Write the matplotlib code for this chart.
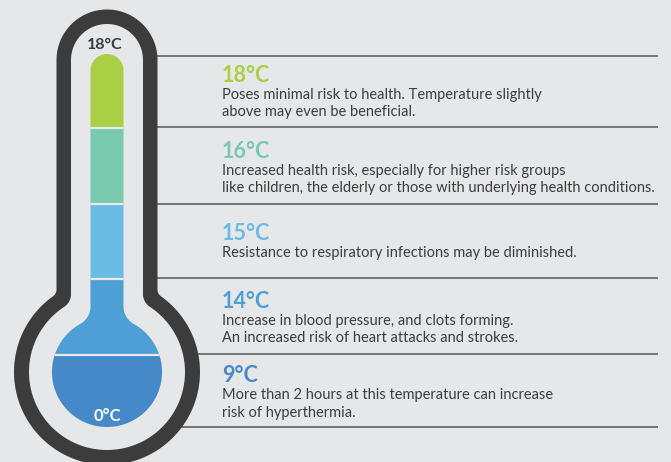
import numpy as np
import matplotlib
matplotlib.use("Agg")
import matplotlib.pyplot as plt
from matplotlib.path import Path
from matplotlib.patches import PathPatch, Rectangle

plt.rcParams['font.family'] = ['Lato', 'DejaVu Sans']

# data
temps = ['18°C', '16°C', '15°C', '14°C', '9°C']
colors = ['#a9cf45', '#78c9ae', '#6cbbe5', '#4d9fd6', '#4589c8']
descs = [
    ['Poses minimal risk to health. Temperature slightly',
     'above may even be beneficial.'],
    ['Increased health risk, especially for higher risk groups',
     'like children, the elderly or those with underlying health conditions.'],
    ['Resistance to respiratory infections may be diminished.'],
    ['Increase in blood pressure, and clots forming.',
     'An increased risk of heart attacks and strokes.'],
    ['More than 2 hours at this temperature can increase',
     'risk of hyperthermia.'],
]
top_label = '18°C'
bottom_label = '0°C'

bg = '#e6e7e9'
dark = '#3c3c3c'
txt = '#3d3d3d'

# layout in pixels (y down)
W, H = 671, 462
cx, cy = 107, 372
rows = [56, 127, 204, 278, 354, 427]
bands = [54, 127.5, 204, 279, 355, 430]


def flask(w, R, t, r, n=80):
    # rounded tube of half-width w sitting on a circle of radius R, with fillets r
    pts = []
    th = np.linspace(np.pi, 0, n)
    pts += list(zip(cx + w * np.cos(th), t - w * np.sin(th)))
    yf = cy - np.sqrt((R + r) ** 2 - (w + r) ** 2)
    fx = cx + w + r
    phi_end = np.arctan2(cy - yf, -(w + r))
    ph = np.linspace(np.pi, phi_end, n // 2)
    pts += list(zip(fx + r * np.cos(ph), yf + r * np.sin(ph)))
    a_r = np.arctan2(yf - cy, w + r)
    al = np.linspace(a_r, np.pi - a_r, n * 2)
    pts += list(zip(cx + R * np.cos(al), cy + R * np.sin(al)))
    fxl = cx - w - r
    ph = np.linspace(np.arctan2(cy - yf, w + r), 0, n // 2)
    pts += list(zip(fxl + r * np.cos(ph), yf + r * np.sin(ph)))
    pts.append((cx - w, t))
    pts.append(pts[0])
    return Path(pts, closed=True)


fig = plt.figure(figsize=(W / 100, H / 100), dpi=100, facecolor=bg)
ax = fig.add_axes([0, 0, 1, 1])
ax.set_xlim(0, W)
ax.set_ylim(H, 0)
ax.axis('off')
ax.set_facecolor(bg)

# separator lines
for y in rows:
    ax.plot([120, 658], [y, y], color='#555555', lw=1.1, zorder=1,
            solid_capstyle='butt')

# thermometer outline
ax.add_patch(PathPatch(flask(50.5, 93, 60, 8), fc=dark, ec='none', zorder=2))
ax.add_patch(PathPatch(flask(36, 78, 60, 15), fc=bg, ec='none', zorder=3))

# liquid column, coloured bands clipped to the flask shape
liquid = PathPatch(flask(16.5, 55, 70.5, 20), fc='none', ec='none',
                   transform=ax.transData)
ax.add_patch(liquid)
for i, c in enumerate(colors):
    rect = Rectangle((cx - 60, bands[i]), 120, bands[i + 1] - bands[i],
                     fc=c, ec='none', zorder=4)
    ax.add_patch(rect)
    rect.set_clip_path(liquid)
for y in bands[1:-1]:
    ln, = ax.plot([cx - 60, cx + 60], [y, y], color='#e8eaec', lw=1.6, zorder=5)
    ln.set_clip_path(liquid)

ax.text(cx - 2, 49, top_label, ha='center', va='baseline', fontsize=11.5,
        fontweight='bold', color=dark, zorder=6)
ax.text(cx, 421, bottom_label, ha='center', va='baseline', fontsize=12,
        fontweight='bold', color='white', zorder=6)

# text blocks
head_base = [82, 157.5, 239.5, 307.5, 382.5]
for i in range(len(temps)):
    ax.text(222, head_base[i], temps[i], ha='left', va='baseline',
            fontsize=15.5, fontweight='bold', color=colors[i] if i < 4 else '#4589c8')
    for j, line in enumerate(descs[i]):
        ax.text(222, head_base[i] + 17 + j * 17.3, line, ha='left',
                va='baseline', fontsize=10.5, color=txt)

fig.savefig('out.png', dpi=100, facecolor=bg)
